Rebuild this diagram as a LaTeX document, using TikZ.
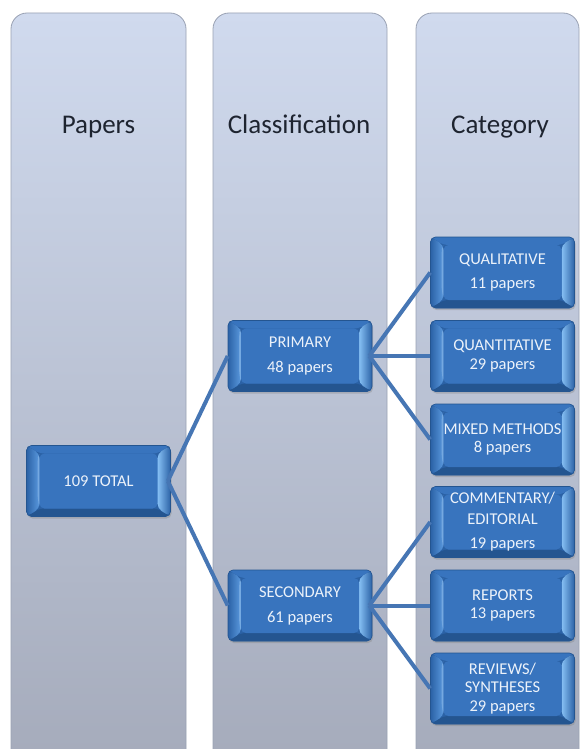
\documentclass[tikz,border=0pt]{standalone}
\usepackage{fontspec}
\setmainfont{Carlito}
\usetikzlibrary{shadows}

\definecolor{colTop}{HTML}{D0DAEE}
\definecolor{colBot}{HTML}{A5ABBB}
\definecolor{colEdge}{HTML}{9AA2B4}
\definecolor{headText}{HTML}{1E2430}
\definecolor{boxOuter}{HTML}{2B62A6}
\definecolor{boxFace}{HTML}{3874BE}
\definecolor{boxLeft}{HTML}{5A99DE}
\definecolor{boxRight}{HTML}{86C0F4}
\definecolor{boxBottom}{HTML}{245590}
\definecolor{boxText}{HTML}{ECF2FA}
\definecolor{linkBlue}{HTML}{4676B4}

\tikzset{
  column/.style={draw=colEdge, line width=0.8pt, rounded corners=16pt,
    top color=colTop, bottom color=colBot},
  heading/.style={font=\fontsize{27}{32}\selectfont, text=headText, anchor=base},
  bevelbox/.style={
    rectangle, rounded corners=5pt, minimum width=144pt, minimum height=71pt,
    fill=boxOuter, draw=boxBottom, line width=0.6pt, align=center,
    text=boxText, font=\fontsize{16.5}{18.5}\selectfont, inner sep=0pt,
    drop shadow={opacity=0.35, shadow xshift=1pt, shadow yshift=-2pt},
    path picture={
      \coordinate (nw) at (path picture bounding box.north west);
      \coordinate (ne) at (path picture bounding box.north east);
      \coordinate (sw) at (path picture bounding box.south west);
      \coordinate (se) at (path picture bounding box.south east);
      % top facet
      \fill[boxFace] (nw) -- (ne) -- ([shift={(-13pt,-8pt)}]ne) -- ([shift={(13pt,-8pt)}]nw) -- cycle;
      % bottom facet
      \fill[boxBottom] (sw) -- (se) -- ([shift={(-13pt,8pt)}]se) -- ([shift={(13pt,8pt)}]sw) -- cycle;
      % left facet
      \fill[left color=boxOuter, right color=boxLeft] (nw) -- ([shift={(13pt,-8pt)}]nw) -- ([shift={(13pt,8pt)}]sw) -- (sw) -- cycle;
      \fill[boxLeft!70!white, opacity=0.6] ([shift={(11pt,-13pt)}]nw) -- ([shift={(13pt,-8pt)}]nw) -- ([shift={(13pt,8pt)}]sw) -- ([shift={(11pt,20pt)}]sw) -- cycle;
      % right facet
      \fill[left color=boxRight, right color=boxOuter] (ne) -- ([shift={(-13pt,-8pt)}]ne) -- ([shift={(-13pt,8pt)}]se) -- (se) -- cycle;
      % face
      \fill[boxFace] ([shift={(13pt,-8pt)}]nw) rectangle ([shift={(-13pt,8pt)}]se);
    }
  },
  link/.style={draw=linkBlue, line width=4pt}
}

\begin{document}
\begin{tikzpicture}[x=1pt, y=-1pt]
  \useasboundingbox (0,0) rectangle (582,749);
  \clip (0,0) rectangle (582,749);
  \fill[white] (0,0) rectangle (582,749);

  % three background columns
  \path[column] (11,13) rectangle (186,766);
  \path[column] (213,13) rectangle (387,766);
  \path[column] (416,13) rectangle (579,766);

  \node[heading] (hPapers) at (98.5,134) {Papers};
  \node[heading] (hClass) at (299,134) {Classification};
  \node[heading] (hCat) at (500,134) {Category};

  \node[bevelbox] (nTotal) at (98.5,481) {109 TOTAL};
  \node[bevelbox] (nPrim) at (300,356) {PRIMARY\\[6pt]48 papers};
  \node[bevelbox] (nSec) at (300,605.5) {SECONDARY\\[6.5pt]61 papers};

  \node[bevelbox] (nQual) at (502.5,272.5) {QUALITATIVE\\[5.5pt]11 papers};
  \node[bevelbox] (nQuant) at (502.5,356) {QUANTITATIVE\\29 papers};
  \node[bevelbox] (nMixed) at (502.5,439.5) {MIXED METHODS\\8 papers};
  \node[bevelbox] (nComm) at (502.5,522) {COMMENTARY/\\[2pt]EDITORIAL\\[6pt]19 papers};
  \node[bevelbox] (nRep) at (502.5,605.5) {REPORTS\\13 papers};
  \node[bevelbox] (nRev) at (502.5,688.5) {REVIEWS/\\SYNTHESES\\29 papers};

  % connectors from each parent box to its children
  \draw[link] ([xshift=-3pt]nTotal.east) -- (nPrim.west);
  \draw[link] ([xshift=-3pt]nTotal.east) -- (nSec.west);
  \draw[link] ([xshift=-3pt]nPrim.east) -- (nQual.west);
  \draw[link] ([xshift=-3pt]nPrim.east) -- (nQuant.west);
  \draw[link] ([xshift=-3pt]nPrim.east) -- (nMixed.west);
  \draw[link] ([xshift=-3pt]nSec.east) -- (nComm.west);
  \draw[link] ([xshift=-3pt]nSec.east) -- (nRep.west);
  \draw[link] ([xshift=-3pt]nSec.east) -- (nRev.west);
\end{tikzpicture}
\end{document}
